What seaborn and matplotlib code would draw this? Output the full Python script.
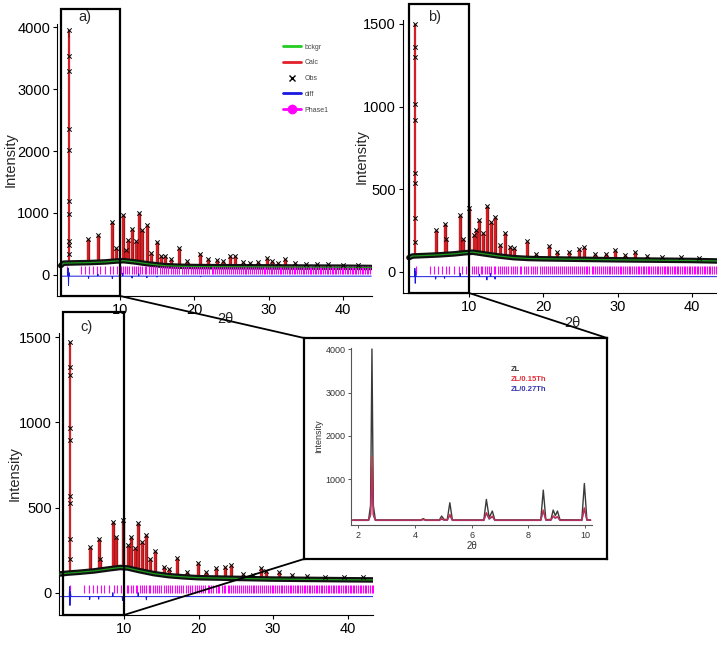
import matplotlib
matplotlib.use("Agg")
import matplotlib.pyplot as plt
import numpy as np
import seaborn as sns
from matplotlib.lines import Line2D
from matplotlib.patches import ConnectionPatch, Rectangle

W, H = 717, 664

# ---- reflection positions of Phase1 (same phase in all refinements) ----
phase_pos = [2.8, 4.7, 5.3, 5.8, 6.4, 6.9, 7.3, 8.0, 8.7, 9.1, 9.6,
             10.05, 10.35, 10.6, 10.95, 11.2, 11.55, 11.8, 12.1, 12.35, 12.7,
             12.95, 13.3, 13.5, 13.85, 14.1, 14.4, 14.75, 15.0, 15.3, 15.65,
             15.9, 16.2, 16.5, 16.8, 17.05, 17.4, 17.7, 17.95, 18.3, 18.55,
             18.9, 19.15, 19.5, 19.8, 20.1, 20.35, 20.6, 20.9, 21.2, 21.45,
             21.7, 22.0, 22.3, 22.55, 22.8, 23.1, 23.35, 23.6, 23.9, 24.15,
             24.4, 24.65, 24.9, 25.2, 25.45, 25.7, 25.95, 26.2, 26.5, 26.75,
             27.0, 27.25, 27.5, 27.75, 28.0, 28.3, 28.55, 28.8, 29.05, 29.3,
             29.55, 29.8, 30.05, 30.3, 30.5, 30.75, 31.0, 31.25, 31.5, 31.7,
             31.95, 32.2, 32.45, 32.7, 32.9, 33.15, 33.4, 33.6, 33.85, 34.1,
             34.3, 34.55, 34.8, 35.0, 35.25, 35.5, 35.7, 35.95, 36.2, 36.4,
             36.6, 36.85, 37.1, 37.3, 37.55, 37.8, 38.0, 38.2, 38.45, 38.7,
             38.9, 39.1, 39.35, 39.6, 39.8, 40.0, 40.25, 40.5, 40.7, 40.9,
             41.15, 41.4, 41.6, 41.8, 42.05, 42.3, 42.5, 42.7, 42.95, 43.2,
             43.4, 43.6]

# ---- a) ZL ----
a_bg_x = [2.0, 2.4, 4.0, 6.0, 8.0, 9.5, 10.5, 12.0, 14.0, 16.0, 18.0, 20.0, 25.0, 30.0, 35.0, 40.0, 43.8]
a_bg_y = [150, 190, 195, 200, 210, 225, 230, 210, 175, 150, 140, 135, 132, 130, 127, 125, 120]
a_pk_x = [3.05, 5.73, 7.0, 8.96, 9.5, 10.36, 10.8, 11.1, 11.6, 12.1, 12.5, 13.0, 13.6, 14.2,
          14.9, 15.5, 16.1, 16.8, 17.9, 19.0, 20.8, 21.8, 23.0, 23.8, 24.8, 25.5, 26.5, 27.5,
          28.5, 29.7, 30.5, 31.3, 32.2, 33.5, 35.0, 36.5, 38.0, 40.0, 42.0]
a_pk_obs = [3957, 580, 650, 850, 435, 973, 400, 560, 742, 543, 1000, 731, 812, 350,
            532, 300, 301, 260, 435, 220, 344, 250, 247, 220, 301, 312, 210, 200,
            215, 274, 220, 190, 258, 200, 180, 175, 170, 165, 160]
a_pk_calc = [3820, 560, 620, 800, 400, 940, 380, 540, 720, 520, 960, 700, 790, 330,
             500, 280, 290, 240, 410, 210, 330, 240, 240, 210, 290, 300, 200, 195,
             205, 265, 210, 185, 250, 190, 175, 170, 165, 160, 155]
a_main_obs = [3540, 3290, 2350, 2020, 1190, 990, 540, 490, 330]
a_diff_x = [2.0, 2.9, 3.0, 3.05, 3.1, 3.2, 5.7, 5.75, 5.8, 6.95, 7.0, 7.05, 8.9, 8.95, 9.0,
            10.3, 10.35, 10.4, 11.55, 11.6, 11.65, 12.45, 12.5, 12.55, 13.55, 13.6, 13.65,
            14.9, 14.95, 15.0, 20.8, 20.85, 20.9, 43.8]
a_diff_y = [-20, -20, 110, -170, 40, -20, -20, -55, -20, -20, 15, -20, -20, -60, -20,
            -20, 30, -20, -20, -50, -20, -20, 20, -20, -20, -45, -20,
            -20, -35, -20, -20, -30, -20, -20]

# ---- b) ZL/0.15Th ----
b_bg_x = [1.9, 2.4, 4.0, 6.0, 8.0, 9.5, 10.5, 12.0, 14.0, 16.0, 18.0, 20.0, 25.0, 30.0, 35.0, 40.0, 43.4]
b_bg_y = [85, 95, 98, 102, 108, 115, 118, 108, 95, 85, 80, 78, 75, 72, 70, 68, 65]
b_pk_x = [2.75, 5.5, 6.7, 6.9, 8.8, 9.2, 10.0, 10.6, 10.9, 11.4, 11.9, 12.4, 12.9, 13.5,
          14.2, 14.8, 15.5, 16.1, 17.8, 19.0, 20.8, 21.8, 23.4, 24.8, 25.5, 27.0, 28.5,
          29.7, 31.0, 32.4, 34.0, 36.0, 38.5, 41.0]
b_pk_obs = [1500, 252, 287, 196, 343, 196, 384, 220, 252, 313, 232, 398, 303, 333,
            160, 232, 150, 141, 188, 110, 155, 120, 121, 135, 151, 105, 110,
            131, 100, 121, 95, 90, 88, 85]
b_pk_calc = [1484, 240, 270, 180, 320, 185, 360, 210, 240, 295, 220, 380, 290, 315,
             150, 220, 140, 135, 180, 105, 150, 115, 118, 130, 145, 100, 105,
             125, 98, 118, 92, 88, 85, 83]
b_main_obs = [1363, 1302, 1013, 919, 596, 539, 323, 182]
b_diff_x = [1.9, 2.65, 2.7, 2.75, 2.8, 2.9, 5.45, 5.5, 5.55, 6.65, 6.7, 6.75, 8.75, 8.8, 8.85,
            9.95, 10.0, 10.05, 11.35, 11.4, 11.45, 12.35, 12.4, 12.45, 12.85, 12.9, 12.95,
            13.45, 13.5, 13.55, 43.4]
b_diff_y = [-30, -30, 20, -70, 0, -30, -30, -45, -30, -30, -40, -30, -30, -10, -30,
            -30, -50, -30, -30, -15, -30, -30, -50, -30, -30, -10, -30,
            -30, -45, -30, -30]

# ---- c) ZL/0.27Th ----
c_bg_x = [1.4, 2.5, 4.0, 6.0, 8.0, 9.5, 10.5, 12.0, 14.0, 16.0, 18.0, 20.0, 25.0, 30.0, 35.0, 40.0, 43.4]
c_bg_y = [110, 115, 120, 128, 140, 148, 145, 130, 112, 100, 93, 88, 84, 80, 78, 76, 75]
c_pk_x = [2.75, 5.4, 6.6, 6.8, 8.5, 8.9, 9.8, 10.6, 11.0, 11.5, 11.9, 12.4, 13.0, 13.5,
          14.2, 15.3, 16.0, 17.1, 18.5, 19.9, 21.0, 22.3, 23.6, 24.4, 26.0, 27.3, 28.4,
          29.0, 30.8, 32.5, 34.5, 37.0, 39.5, 42.0]
c_pk_obs = [1474, 270, 313, 200, 417, 329, 427, 280, 325, 260, 407, 300, 339, 200,
            247, 153, 140, 202, 120, 176, 120, 143, 153, 163, 110, 105, 143,
            125, 123, 105, 100, 95, 92, 90]
c_pk_calc = [1445, 255, 295, 190, 390, 310, 400, 265, 305, 250, 385, 285, 320, 190,
             235, 150, 135, 195, 115, 170, 115, 138, 148, 158, 105, 100, 138,
             120, 118, 100, 96, 92, 90, 88]
c_main_obs = [1328, 1279, 969, 897, 568, 525, 313, 196]
c_diff_x = [1.4, 2.65, 2.7, 2.75, 2.8, 2.9, 5.35, 5.4, 5.45, 6.55, 6.6, 6.65, 8.45, 8.5, 8.55,
            9.75, 9.8, 9.85, 11.85, 11.9, 11.95, 12.95, 13.0, 13.05, 43.4]
c_diff_y = [-23, -23, 35, -75, 5, -23, -23, -40, -23, -23, -38, -23, -23, 0, -23,
            -23, -45, -23, -23, 0, -23, -23, -42, -23, -23]

# ---- inset: low-angle comparison ----
inset_x = [1.8, 2.36, 2.43, 2.455, 2.48, 2.505, 2.53, 2.60, 4.20, 4.29, 4.38, 4.86, 4.94,
           5.03, 5.14, 5.23, 5.32, 6.43, 6.52, 6.62, 6.73, 6.82, 8.44, 8.53, 8.62, 8.80,
           8.88, 8.955, 9.03, 9.12, 9.89, 9.98, 10.07, 10.2]
zl_y = [70, 70, 400, 2100, 4000, 2100, 400, 70, 70, 100, 70, 70, 160,
        80, 80, 466, 70, 70, 542, 120, 275, 70, 70, 756, 80, 80,
        298, 170, 275, 75, 70, 908, 75, 70]
th15_y = [65, 65, 200, 800, 1530, 800, 200, 65, 65, 85, 65, 65, 100,
          70, 70, 200, 65, 65, 240, 100, 160, 65, 65, 300, 70, 70,
          165, 120, 150, 65, 65, 350, 70, 65]
th27_y = [60, 60, 180, 680, 1270, 680, 180, 60, 60, 80, 60, 60, 90,
          65, 65, 180, 60, 60, 225, 90, 145, 60, 60, 280, 65, 65,
          155, 110, 140, 60, 60, 330, 65, 60]

GREEN = "#22cc22"
RED = "#e3202a"
DARK_RED = "#a01818"
BLUE = "#1818e0"
MAGENTA = "#ff00ff"

sns.set_style("ticks")
plt.rcParams["font.family"] = ["Liberation Sans", "DejaVu Sans"]

fig = plt.figure(figsize=(W / 100, H / 100), dpi=100)


def axes_px(left, top, right, bottom):
    return fig.add_axes([left / W, 1 - bottom / H, (right - left) / W, (bottom - top) / H])


def draw_refinement(ax, bg_x, bg_y, pk_x, pk_obs, pk_calc, main_obs, diff_x, diff_y, tick_y):
    base = np.interp(pk_x, bg_x, bg_y)
    # observed profile (dark outline) under the calculated profile
    widths = [1.6] + [2.4] * (len(pk_x) - 1)
    ax.vlines(pk_x, base, pk_obs, color=DARK_RED, linewidths=widths, zorder=2)
    ax.vlines(pk_x, base, pk_calc, color=RED, lw=1.1, zorder=2.5)
    sns.lineplot(x=bg_x, y=bg_y, color="#111111", lw=4.0, sort=False, estimator=None, ax=ax, zorder=3)
    sns.lineplot(x=bg_x, y=bg_y, color="#1f9a1f", lw=0.9, sort=False, estimator=None, ax=ax, zorder=4)
    obs_x = list(pk_x) + [pk_x[0]] * len(main_obs)
    obs_y = list(pk_obs) + list(main_obs)
    sns.scatterplot(x=obs_x, y=obs_y, marker="x", color="black", s=10, linewidth=0.7, ax=ax, zorder=5)
    sns.lineplot(x=diff_x, y=diff_y, color=BLUE, lw=0.7, sort=False, estimator=None, ax=ax, zorder=4)
    sns.scatterplot(x=phase_pos, y=[tick_y] * len(phase_pos), marker="|", color=MAGENTA,
                    edgecolor=MAGENTA, s=30, linewidth=0.8, ax=ax, zorder=3)
    sns.despine(ax=ax)
    ax.tick_params(direction="out", length=3, width=0.8, labelsize=10.5, pad=2, colors="black")
    for side in ("left", "bottom"):
        ax.spines[side].set_color("black")
        ax.spines[side].set_linewidth(0.8)
    ax.set_xticks([10, 20, 30, 40])
    ax.set_facecolor("none")


def zoom_box(ax, x0, top):
    ax.add_patch(Rectangle((x0, 0), 10 - x0, top, transform=ax.get_xaxis_transform(),
                           fill=False, lw=1.6, ec="black", clip_on=False, zorder=6))


# a)
ax_a = axes_px(57, 24, 372, 296)
draw_refinement(ax_a, a_bg_x, a_bg_y, a_pk_x, a_pk_obs, a_pk_calc, a_main_obs,
                a_diff_x, a_diff_y, 85)
ax_a.set_xlim(1.5, 43.9)
ax_a.set_ylim(-340, 4050)
ax_a.set_yticks([0, 1000, 2000, 3000, 4000])
ax_a.set_ylabel("Intensity", fontsize=10.5)
ax_a.yaxis.set_label_coords(-0.125, 0.5)
ax_a.set_xlabel("2θ", fontsize=10.5)
ax_a.xaxis.set_label_coords(0.533, -0.06)
ax_a.text(0.089, 1.026, "a)", transform=ax_a.transAxes, fontsize=10.5, ha="center", va="center")
zoom_box(ax_a, 2.05, 1.055)

handles = [Line2D([], [], color=GREEN, lw=2, label="bckgr"),
           Line2D([], [], color=RED, lw=2, label="Calc"),
           Line2D([], [], color="black", lw=0, marker="x", ms=4, mew=1, label="Obs"),
           Line2D([], [], color=BLUE, lw=2, label="diff"),
           Line2D([], [], color=MAGENTA, lw=2, marker="o", ms=6, label="Phase1")]
leg = ax_a.legend(handles=handles, loc="upper left", bbox_to_anchor=(0.705, 0.94),
                  frameon=False, fontsize=5, labelspacing=1.25, handlelength=2.6,
                  handletextpad=0.6, borderpad=0)
for t in leg.get_texts():
    t.set_color("#444444")

# b)
ax_b = axes_px(403, 20, 717, 293)
draw_refinement(ax_b, b_bg_x, b_bg_y, b_pk_x, b_pk_obs, b_pk_calc, b_main_obs,
                b_diff_x, b_diff_y, 10)
ax_b.set_xlim(1.1, 43.4)
ax_b.set_ylim(-129, 1524)
ax_b.set_yticks([0, 500, 1000, 1500])
ax_b.set_ylabel("Intensity", fontsize=10.5)
ax_b.yaxis.set_label_coords(-0.11, 0.5)
ax_b.set_xlabel("2θ", fontsize=10.5)
ax_b.xaxis.set_label_coords(0.541, -0.085)
ax_b.text(0.102, 1.011, "b)", transform=ax_b.transAxes, fontsize=10.5, ha="center", va="center")
zoom_box(ax_b, 1.9, 1.059)

# c)
ax_c = axes_px(59, 333, 373, 615)
draw_refinement(ax_c, c_bg_x, c_bg_y, c_pk_x, c_pk_obs, c_pk_calc, c_main_obs,
                c_diff_x, c_diff_y, 22)
ax_c.set_xlim(1.28, 43.4)
ax_c.set_ylim(-131, 1525)
ax_c.set_yticks([0, 500, 1000, 1500])
ax_c.set_ylabel("Intensity", fontsize=10.5)
ax_c.yaxis.set_label_coords(-0.12, 0.5)
ax_c.text(0.089, 1.02, "c)", transform=ax_c.transAxes, fontsize=10.5, ha="center", va="center")
zoom_box(ax_c, 1.81, 1.074)

# inset frame and comparison plot
frame = axes_px(304, 338, 607, 559)
frame.set_xticks([])
frame.set_yticks([])
for s in frame.spines.values():
    s.set_linewidth(1.6)
    s.set_color("black")
frame.set_facecolor("white")

ins = axes_px(351, 348, 592, 525)
sns.lineplot(x=inset_x, y=zl_y, color="#3a3a3a", lw=1.0, sort=False, estimator=None,
             ax=ins, label="ZL")
sns.lineplot(x=inset_x, y=th27_y, color="#3636b0", lw=1.0, sort=False, estimator=None,
             ax=ins, label="ZL/0.27Th")
sns.lineplot(x=inset_x, y=th15_y, color="#e0303a", lw=1.0, alpha=0.85, sort=False,
             estimator=None, ax=ins, label="ZL/0.15Th")
ins.set_xlim(1.74, 10.25)
ins.set_ylim(-46, 4023)
ins.set_xticks([2, 4, 6, 8, 10])
ins.set_yticks([1000, 2000, 3000, 4000])
sns.despine(ax=ins)
for side in ("left", "bottom"):
    ins.spines[side].set_color("#555555")
    ins.spines[side].set_linewidth(0.8)
ins.tick_params(direction="out", length=2.5, width=0.7, labelsize=6.5, pad=1.5,
                colors="#555555", labelcolor="#333333")
ins.set_xlabel("2θ", fontsize=7, color="#333333", labelpad=1)
ins.set_ylabel("Intensity", fontsize=6.5, color="#333333", labelpad=2)
ins.set_facecolor("none")
h, l = ins.get_legend_handles_labels()
order = [0, 2, 1]
ileg = ins.legend([h[i] for i in order], [l[i] for i in order], loc="upper left",
                  bbox_to_anchor=(0.645, 0.92), frameon=False, handlelength=0,
                  handletextpad=0, fontsize=5.5, labelspacing=0.3, borderpad=0)
for t, line in zip(ileg.get_texts(), ileg.get_lines()):
    t.set_color(line.get_color())
    t.set_fontweight("bold")
    line.set_visible(False)

# connectors from the zoom boxes to the inset frame
for ax, xb, yb in ((ax_a, 0, 1), (ax_b, 1, 1), (ax_c, 0, 0)):
    con = ConnectionPatch(xyA=(10, 0), coordsA=ax.get_xaxis_transform(),
                          xyB=(xb, yb), coordsB=frame.transAxes,
                          color="black", lw=1.3)
    fig.add_artist(con)

fig.savefig("out.png", dpi=100)
